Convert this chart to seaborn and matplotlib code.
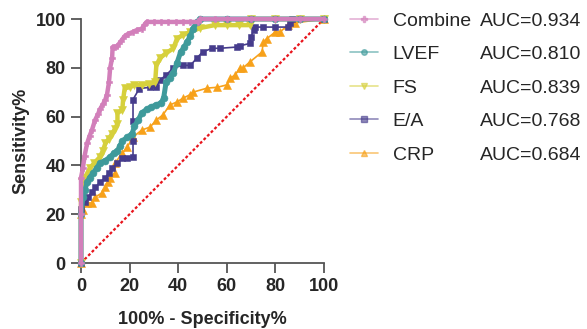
import matplotlib
matplotlib.use("Agg")
import matplotlib.pyplot as plt
from matplotlib.lines import Line2D
import seaborn as sns
import pandas as pd

# ROC points (x = 100% - specificity, y = sensitivity)
combine_x = [0, 0, 0, 0.8, 1.5, 2.5, 3.5, 4.5, 5.8, 7, 7.8, 9, 10, 10.7, 11.5, 12, 12.8, 13, 14, 15, 16.5,
             18, 19.5, 21.4, 23, 25, 26, 27, 30, 33, 36, 39, 42, 45, 48, 49, 55, 60, 70, 80, 90, 100]
combine_y = [0, 20, 35, 39, 44, 49, 52, 54.5, 58.6, 61, 63, 65, 67, 69, 74, 80, 84, 88.5, 88.5, 89, 91,
             93, 94, 94.7, 95.5, 96, 97.5, 98.8, 98.8, 98.8, 98.8, 98.8, 98.8, 98.8, 98.8, 100, 100, 100, 100, 100, 100, 100]

lvef_x = [0, 0, 0.8, 1.6, 2.5, 3.5, 5, 6.5, 7.8, 10, 12, 13.5, 15, 16, 17, 19, 21, 22, 23.5, 25, 27, 29, 31,
          33, 34, 35, 36.5, 38, 39.5, 41, 42.5, 43.6, 45, 46, 47.7, 49, 60, 70, 80, 90, 100]
lvef_y = [0, 20, 27, 30, 33, 35, 37, 39, 41, 42, 43.5, 45, 46, 48, 50, 51.5, 53, 56, 58.6, 61.5, 63, 64, 64.8,
          65.6, 67.6, 74, 76, 78, 82, 86.5, 88.5, 90.6, 93, 96, 98.8, 100, 100, 100, 100, 100, 100]

fs_x = [0, 0, 0.4, 1.6, 3.7, 5.5, 7.8, 9, 10, 11.5, 12.8, 14, 15, 15, 17, 17.3, 18, 20, 22, 25, 28, 30.5, 31,
        32.5, 35, 38, 39.5, 42, 45, 49, 55, 60, 65, 69.5, 70, 80, 90, 100]
fs_y = [0, 25, 33, 35, 39, 41, 43.5, 46, 49, 51, 53, 55, 57, 61.5, 62.7, 66.8, 71.7, 72, 73, 73, 73.5, 74, 81,
        84, 86, 88, 92, 93.5, 94.7, 96.3, 97.5, 97.5, 97.5, 97.5, 100, 100, 100, 100]

ea_x = [0, 0, 1.5, 3, 4.5, 5.8, 7.8, 10, 11.5, 12.8, 15, 17, 19, 21.4, 21.4, 21.4, 21.4, 24, 28.4, 31, 32.5,
        35, 38, 42, 45, 47.7, 50, 54, 57, 64, 65.4, 69.5, 70, 71, 71.6, 75, 80, 85, 86, 87, 100]
ea_y = [0, 22, 25, 27, 29, 31, 33, 35, 37, 39, 41, 43, 43, 43.5, 50, 58, 67, 71.5, 72, 72, 75,
        77, 80, 81, 81, 84, 86.5, 88, 88, 88.5, 89, 90, 92.6, 95.5, 96.7, 96.7, 96.7, 96.7, 98.4, 100, 100]

crp_x = [0, 0, 0.8, 2.5, 4.5, 5.8, 8.6, 10, 11, 12, 14, 14, 17, 19, 21.4, 25, 28.4, 31, 33.7, 36.6, 39.5,
         42, 45, 46, 52, 56, 60, 61.3, 63.4, 65.4, 66.7, 69.5, 74.5, 75, 76.5, 80, 82, 85, 88, 100]
crp_y = [0, 20, 21.7, 24.6, 24.6, 27, 28.7, 31, 33, 35, 37, 41, 45, 47.5, 51.6, 54.5, 55.7, 58.6, 60.7, 64.8, 66,
         67.6, 69, 70, 71.7, 72, 73, 75.8, 77, 80, 80, 82.4, 86.5, 90.6, 92, 94.7, 94.7, 97.5, 98.4, 100]

names = ["Combine", "LVEF", "FS", "E/A", "CRP"]
auc_labels = ["AUC=0.934", "AUC=0.810", "AUC=0.839", "AUC=0.768", "AUC=0.684"]
colors = ["#D27FBA", "#3E9A9B", "#D6D03C", "#463C8C", "#F7A11A"]
markers = ["P", "o", "v", "s", "^"]
msizes = [4.5, 5, 5.5, 5, 5.5]
lwidths = [3.2, 3.6, 3.2, 1.2, 1.2]
curves = [(combine_x, combine_y), (lvef_x, lvef_y), (fs_x, fs_y), (ea_x, ea_y), (crp_x, crp_y)]

sns.set_style("ticks")
plt.rcParams["font.family"] = ["Liberation Sans", "DejaVu Sans"]

fig = plt.figure(figsize=(5.87, 3.29), dpi=100)
ax = fig.add_axes([0.138, 0.2006, 0.414, 0.7416])

# reference line
ax.plot([0, 100], [0, 100], color="#E8141C", lw=1.6, ls=(0, (1.3, 1.0)), zorder=2)

# draw back to front so Combine sits on top
for i in reversed(range(len(names))):
    cx, cy = curves[i]
    df = pd.DataFrame({"x": cx, "y": cy})
    sns.lineplot(data=df, x="x", y="y", sort=False, estimator=None, ax=ax,
                 color=colors[i], lw=lwidths[i], marker=markers[i], markersize=msizes[i],
                 markeredgecolor=colors[i], markeredgewidth=0.4, clip_on=False, zorder=3 + (5 - i))

ax.set_xlim(0, 100)
ax.set_ylim(0, 100)
ax.set_xticks([0, 20, 40, 60, 80, 100])
ax.set_yticks([0, 20, 40, 60, 80, 100])
sns.despine(ax=ax)
for s in ["left", "bottom"]:
    ax.spines[s].set_color("#555555")
    ax.spines[s].set_linewidth(1.3)
ax.tick_params(length=7, width=1.3, color="#555555", labelsize=13, pad=4)
for lab in ax.get_xticklabels() + ax.get_yticklabels():
    lab.set_fontweight("bold")
ax.set_xlabel("100% - Specificity%", fontsize=13, fontweight="bold", labelpad=11)
ax.set_ylabel("Sensitivity%", fontsize=13, fontweight="bold", labelpad=4)

handles = [Line2D([0], [0], color=colors[i], lw=1.2, alpha=0.6, marker=markers[i], markersize=4,
                  markerfacecolor=colors[i], markeredgecolor=colors[i]) for i in range(len(names))]
leg = fig.legend(handles, names, loc="upper left", bbox_to_anchor=(350 / 587, 1 - 12 / 329),
                 frameon=False, fontsize=14, handlelength=1.45, handletextpad=0.75, labelspacing=0.82,
                 borderaxespad=0, borderpad=0)

fig.canvas.draw()
inv = fig.transFigure.inverted()
for t, auc in zip(leg.get_texts(), auc_labels):
    bb = t.get_window_extent()
    yc = inv.transform((0, (bb.y0 + bb.y1) / 2))[1]
    fig.text(480 / 587, yc, auc, fontsize=14, va="center", ha="left")

fig.savefig("out.png", dpi=100)
